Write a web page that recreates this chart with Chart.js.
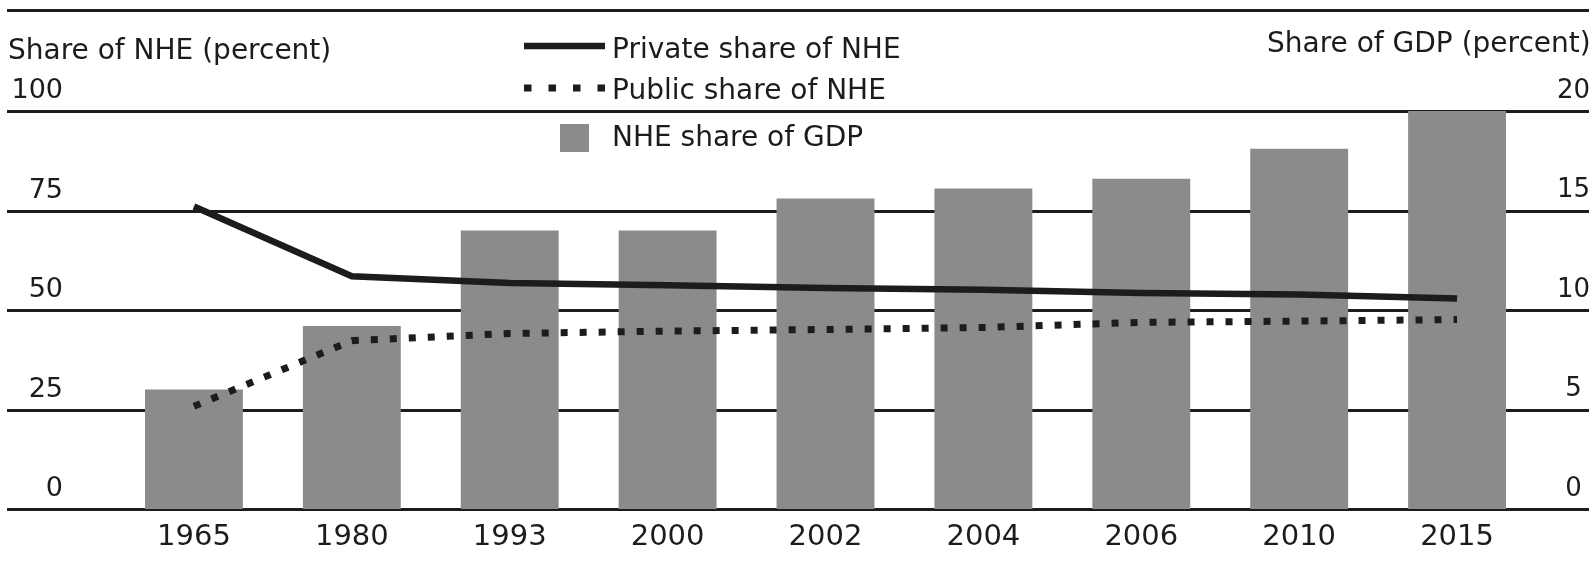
<!DOCTYPE html>
<html>
<head>
<meta charset="utf-8">
<script src="https://cdn.jsdelivr.net/npm/chart.js@4.4.0/dist/chart.umd.min.js"></script>
<style>
  html, body { margin: 0; padding: 0; background: #ffffff; }
  #wrap { width: 1589px; height: 566px; position: relative; }
</style>
</head>
<body>
<div id="wrap"><canvas id="c" width="1589" height="566"></canvas></div>
<script>
// Years shown on the category axis
const years = ['1965', '1980', '1993', '2000', '2002', '2004', '2006', '2010', '2015'];
// Share of national health expenditure (percent, left axis)
const privateShare = [76.0, 58.5, 56.8, 56.2, 55.5, 55.1, 54.3, 53.9, 52.9];
const publicShare  = [25.8, 42.3, 44.1, 44.7, 45.1, 45.6, 46.9, 47.2, 47.6];
// National health expenditure as share of GDP (percent, right axis)
const nheGdpShare  = [6.0, 9.2, 14.0, 14.0, 15.6, 16.1, 16.6, 18.1, 20.0];
// Tick values for the two value axes
const leftTicks  = [0, 25, 50, 75, 100];
const rightTicks = [0, 5, 10, 15, 20];

const INK = '#1c1c1c';
const BAR = '#8b8b8d';
const FONT = '"DejaVu Sans", sans-serif';

// Horizontal rules run the full width of the figure, behind the bars
const ruleLines = {
  id: 'ruleLines',
  beforeDatasetsDraw(chart) {
    const ctx = chart.ctx;
    const y = chart.scales.y;
    ctx.save();
    ctx.strokeStyle = INK;
    ctx.lineWidth = 3;
    ctx.beginPath();
    ctx.moveTo(7, 10.5);
    ctx.lineTo(chart.width, 10.5);
    y.ticks.forEach(t => {
      const py = Math.round(y.getPixelForValue(t.value)) + 0.5;
      ctx.moveTo(7, py);
      ctx.lineTo(chart.width, py);
    });
    ctx.stroke();
    ctx.restore();
  }
};

// Axis captions and the stacked legend at the top
const captions = {
  id: 'captions',
  afterDraw(chart) {
    const ctx = chart.ctx;
    const ds = chart.data.datasets;
    ctx.save();
    ctx.fillStyle = INK;
    ctx.textBaseline = 'alphabetic';
    ctx.textAlign = 'left';
    ctx.font = '28px ' + FONT;
    ctx.fillText('Share of NHE (percent)', 8, 58.5);
    ctx.fillText('Share of GDP (percent)', 1267, 51.5);

    ctx.font = '28px ' + FONT;
    // solid line sample
    ctx.strokeStyle = ds[0].borderColor;
    ctx.lineWidth = ds[0].borderWidth;
    ctx.lineCap = 'butt';
    ctx.beginPath();
    ctx.moveTo(524, 46);
    ctx.lineTo(605, 46);
    ctx.stroke();
    ctx.fillText(ds[0].label, 612, 58);

    // dotted line sample
    ctx.strokeStyle = ds[1].borderColor;
    ctx.lineWidth = ds[1].borderWidth;
    ctx.setLineDash([7.5, 17]);
    ctx.beginPath();
    ctx.moveTo(524, 88);
    ctx.lineTo(605, 88);
    ctx.stroke();
    ctx.setLineDash([]);
    ctx.fillText(ds[1].label, 612, 98.5);

    // bar swatch
    ctx.fillStyle = ds[2].backgroundColor;
    ctx.fillRect(560, 124, 29, 28);
    ctx.fillStyle = INK;
    ctx.fillText(ds[2].label, 612, 146);
    ctx.restore();
  }
};

new Chart(document.getElementById('c'), {
  type: 'bar',
  data: {
    labels: years,
    datasets: [
      {
        type: 'line',
        label: 'Private share of NHE',
        data: privateShare,
        yAxisID: 'y',
        borderColor: INK,
        borderWidth: 6.5,
        tension: 0,
        pointRadius: 0,
        fill: false,
        order: 0
      },
      {
        type: 'line',
        label: 'Public share of NHE',
        data: publicShare,
        yAxisID: 'y',
        borderColor: INK,
        borderWidth: 7,
        borderDash: [7, 12],
        borderCapStyle: 'butt',
        tension: 0,
        pointRadius: 0,
        fill: false,
        order: 1
      },
      {
        type: 'bar',
        label: 'NHE share of GDP',
        data: nheGdpShare,
        yAxisID: 'y1',
        backgroundColor: BAR,
        borderWidth: 0,
        categoryPercentage: 1,
        barPercentage: 0.62,
        order: 2
      }
    ]
  },
  options: {
    responsive: false,
    animation: false,
    devicePixelRatio: 1,
    layout: { padding: { top: 111, left: 0, right: 0, bottom: 0 } },
    plugins: {
      legend: { display: false },
      tooltip: { enabled: false },
      title: { display: false }
    },
    scales: {
      x: {
        offset: true,
        grid: { display: false },
        border: { display: false },
        ticks: {
          color: INK,
          font: { family: FONT, size: 29 },
          padding: 3,
          maxRotation: 0,
          autoSkip: false
        },
        afterFit(s) { s.height = 57; s.paddingLeft = 0; s.paddingRight = 0; }
      },
      y: {
        position: 'left',
        min: 0,
        max: 100,
        afterBuildTicks(s) { s.ticks = leftTicks.map(v => ({ value: v })); },
        grid: { display: false },
        border: { display: false },
        ticks: {
          color: INK,
          font: { family: FONT, size: 27 },
          padding: 44,
          labelOffset: -20
        },
        afterFit(s) { s.width = 115; s.paddingTop = 0; s.paddingBottom = 0; }
      },
      y1: {
        position: 'right',
        min: 0,
        max: 20,
        afterBuildTicks(s) { s.ticks = rightTicks.map(v => ({ value: v })); },
        grid: { display: false },
        border: { display: false },
        ticks: {
          color: INK,
          font: { family: FONT, size: 26 },
          crossAlign: 'center',
          padding: 13,
          labelOffset: -20
        },
        afterFit(s) { s.width = 53; s.paddingTop = 0; s.paddingBottom = 0; }
      }
    }
  },
  plugins: [ruleLines, captions]
});
</script>
</body>
</html>
